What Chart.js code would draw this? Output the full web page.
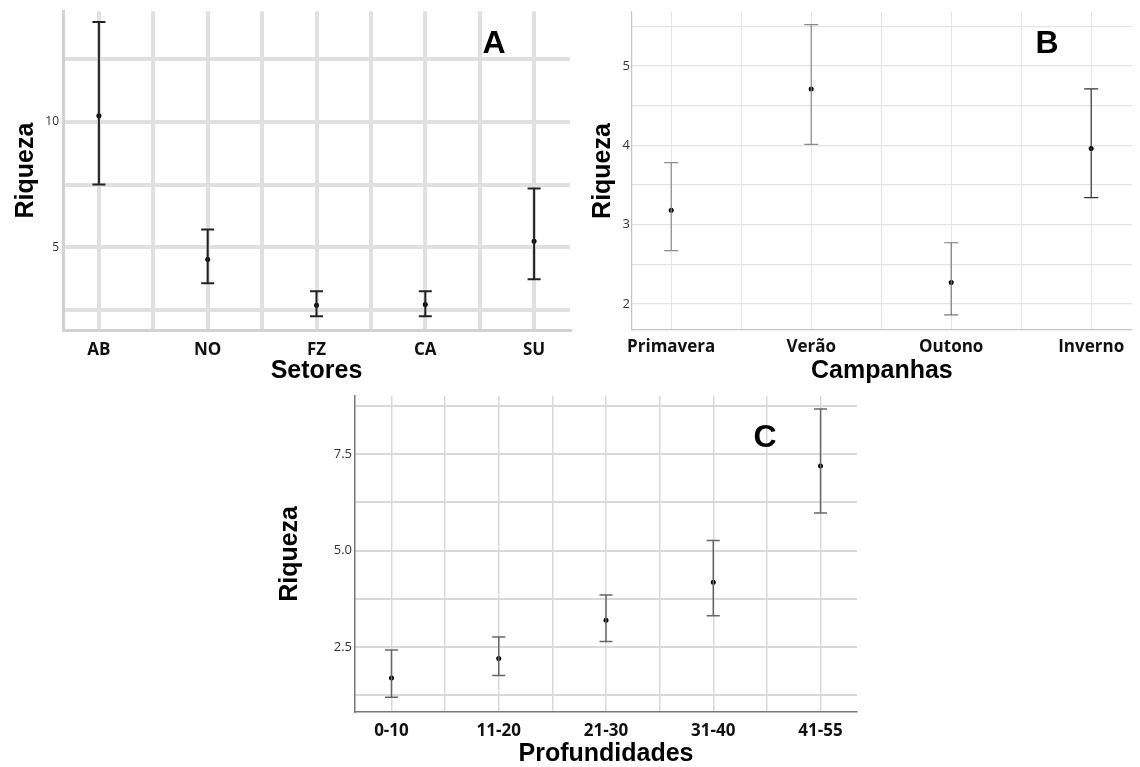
<!DOCTYPE html>
<html>
<head>
<meta charset="utf-8">
<style>
  html, body { margin: 0; padding: 0; background: #fff; overflow: hidden; }
  #wrap { position: relative; width: 1140px; height: 767px; }
  canvas { position: absolute; }
  .tag { position: absolute; font: bold 32px "Liberation Sans", Arial, sans-serif; color: #000; transform: translate(-50%, -50%); }
</style>
</head>
<body>
<div id="wrap">
  <canvas id="chartA" width="580" height="388" style="left:0;top:0"></canvas>
  <canvas id="chartB" width="560" height="388" style="left:580px;top:0"></canvas>
  <canvas id="chartC" width="600" height="390" style="left:270px;top:385px"></canvas>
  <div class="tag" style="left:494px;top:42px">A</div>
  <div class="tag" style="left:1047px;top:42px">B</div>
  <div class="tag" style="left:765px;top:436px">C</div>
</div>
<script src="https://cdn.jsdelivr.net/npm/chart.js"></script>
<script>
    // Panel A - Setores
    const sectorsA = ['AB', 'NO', 'FZ', 'CA', 'SU'];
    const meanA = [10.24, 4.52, 2.70, 2.73, 5.24];
    const lowA = [7.50, 3.57, 2.26, 2.26, 3.73];
    const highA = [13.97, 5.71, 3.25, 3.25, 7.34];
    const yTicksA = [2.5, 5, 7.5, 10, 12.5];
    const yLabelsA = ['', '5', '', '10', ''];

    // Panel B - Campanhas
    const campaignsB = ['Primavera', 'Verão', 'Outono', 'Inverno'];
    const meanB = [3.18, 4.71, 2.27, 3.96];
    const lowB = [2.67, 4.01, 1.86, 3.34];
    const highB = [3.78, 5.52, 2.77, 4.71];
    const yTicksB = [2, 2.5, 3, 3.5, 4, 4.5, 5, 5.5];
    const yLabelsB = ['2', '', '3', '', '4', '', '5', ''];

    // Panel C - Profundidades
    const depthsC = ['0-10', '11-20', '21-30', '31-40', '41-55'];
    const meanC = [1.69, 2.20, 3.19, 4.18, 7.20];
    const lowC = [1.19, 1.76, 2.64, 3.31, 5.98];
    const highC = [2.42, 2.76, 3.85, 5.26, 8.68];
    const yTicksC = [1.25, 2.5, 3.75, 5, 6.25, 7.5, 8.75];
    const yLabelsC = ['', '2.5', '', '5.0', '', '7.5', ''];

    // vertical bar + caps: low point, high point, gap
    function errorPoints(lo, hi) {
        const pts = [];
        lo.forEach((l, i) => {
            pts.push({ x: i, y: l }, { x: i, y: hi[i] }, { x: i, y: null });
        });
        return pts;
    }

    function makeChart(id, p) {
        const n = p.cats.length;
        const xTicks = [];
        for (let v = 0; v <= n - 1; v += 0.5) xTicks.push(v);
        const barColor = (i) => Array.isArray(p.barColor) ? p.barColor[i] : p.barColor;

        return new Chart(document.getElementById(id), {
            type: 'line',
            data: {
                datasets: [
                    {
                        data: errorPoints(p.low, p.high),
                        showLine: true,
                        spanGaps: false,
                        borderWidth: p.barWidth,
                        borderColor: barColor(0),
                        segment: { borderColor: c => barColor(Math.floor(c.p0DataIndex / 3)) },
                        pointStyle: 'line',
                        pointRadius: p.capRadius,
                        pointBorderWidth: p.barWidth,
                        pointBorderColor: p.low.flatMap((l, i) => [barColor(i), barColor(i), barColor(i)]),
                        tension: 0
                    },
                    {
                        data: p.mean.map((m, i) => ({ x: i, y: m })),
                        showLine: false,
                        pointRadius: p.dotRadius,
                        pointBackgroundColor: '#000',
                        pointBorderWidth: 0
                    }
                ]
            },
            options: {
                responsive: false,
                animation: false,
                events: [],
                layout: { padding: { top: p.padTop, right: p.padRight, left: 0, bottom: 0 } },
                plugins: { legend: { display: false }, tooltip: { enabled: false } },
                scales: {
                    x: {
                        type: 'linear',
                        min: p.xMin,
                        max: p.xMax,
                        afterBuildTicks: s => { s.ticks = xTicks.map(v => ({ value: v })); },
                        afterFit: s => { s.height = p.xHeight; },
                        grid: { color: p.gridColor, lineWidth: p.vGridWidth, drawTicks: false },
                        border: { display: true, color: p.axisColor, width: p.axisWidth },
                        ticks: {
                            autoSkip: false,
                            maxRotation: 0,
                            padding: p.xTickPad,
                            color: '#111',
                            font: { family: '"Open Sans", sans-serif', size: p.xTickSize, weight: 'bold' },
                            callback: v => Number.isInteger(v) ? p.cats[v] : ''
                        },
                        title: {
                            display: true,
                            text: p.xTitle,
                            color: '#000',
                            padding: { top: 0, bottom: p.xTitlePad },
                            font: { family: '"Liberation Sans", Arial, sans-serif', size: 25, weight: 'bold' }
                        }
                    },
                    y: {
                        min: p.yMin,
                        max: p.yMax,
                        afterBuildTicks: s => { s.ticks = p.yTicks.map(v => ({ value: v })); },
                        afterFit: s => { s.width = p.yWidth; },
                        grid: { color: p.gridColor, lineWidth: p.hGridWidth, drawTicks: false },
                        border: { display: true, color: p.axisColor, width: p.axisWidth },
                        ticks: {
                            autoSkip: false,
                            padding: p.yTickPad,
                            color: '#333',
                            font: { family: '"Open Sans", sans-serif', size: p.yTickSize },
                            callback: (v) => p.yLabels[p.yTicks.indexOf(v)]
                        },
                        title: {
                            display: true,
                            text: 'Riqueza',
                            color: '#000',
                            padding: { top: p.yTitlePad, bottom: 0 },
                            font: { family: '"Liberation Sans", Arial, sans-serif', size: 25, weight: 'bold' }
                        }
                    }
                }
            }
        });
    }

    makeChart('chartA', {
        cats: sectorsA, mean: meanA, low: lowA, high: highA,
        yTicks: yTicksA, yLabels: yLabelsA,
        xMin: -0.33, xMax: 4.33, yMin: 1.71, yMax: 14.4,
        padTop: 10, padRight: 10, xHeight: 58, yWidth: 63,
        gridColor: '#e0e0e0', hGridWidth: 4, vGridWidth: 4,
        axisColor: '#d2d2d2', axisWidth: 3,
        barColor: '#222', barWidth: 2, capRadius: 6.5, dotRadius: 2.5,
        xTickPad: 10, yTickPad: 4, yTickSize: 12, xTickSize: 17,
        xTitle: 'Setores', xTitlePad: 2, yTitlePad: 11
    });

    makeChart('chartB', {
        cats: campaignsB, mean: meanB, low: lowB, high: highB,
        yTicks: yTicksB, yLabels: yLabelsB,
        xMin: -0.28, xMax: 3.29, yMin: 1.67, yMax: 5.68,
        padTop: 12, padRight: 0, xHeight: 58, yWidth: 52,
        gridColor: '#e4e4e4', hGridWidth: 1.2, vGridWidth: 1,
        axisColor: '#c4c4c4', axisWidth: 1.2,
        barColor: ['#8a8a8a', '#8a8a8a', '#777', '#333'], barWidth: 1.2, capRadius: 7, dotRadius: 2.5,
        xTickPad: 7, yTickPad: 2, yTickSize: 13, xTickSize: 17,
        xTitle: 'Campanhas', xTitlePad: 2, yTitlePad: 8
    });

    makeChart('chartC', {
        cats: depthsC, mean: meanC, low: lowC, high: highC,
        yTicks: yTicksC, yLabels: yLabelsC,
        xMin: -0.34, xMax: 4.34, yMin: 0.81, yMax: 9.02,
        padTop: 8, padRight: 13, xHeight: 63, yWidth: 85,
        gridColor: '#d9d9d9', hGridWidth: 2, vGridWidth: 1.5,
        axisColor: '#777', axisWidth: 1.5,
        barColor: '#666', barWidth: 1.5, capRadius: 6.5, dotRadius: 2.5,
        xTickPad: 9, yTickPad: 3, yTickSize: 13, xTickSize: 17,
        xTitle: 'Profundidades', xTitlePad: 6, yTitlePad: 5
    });
</script>
</body>
</html>
